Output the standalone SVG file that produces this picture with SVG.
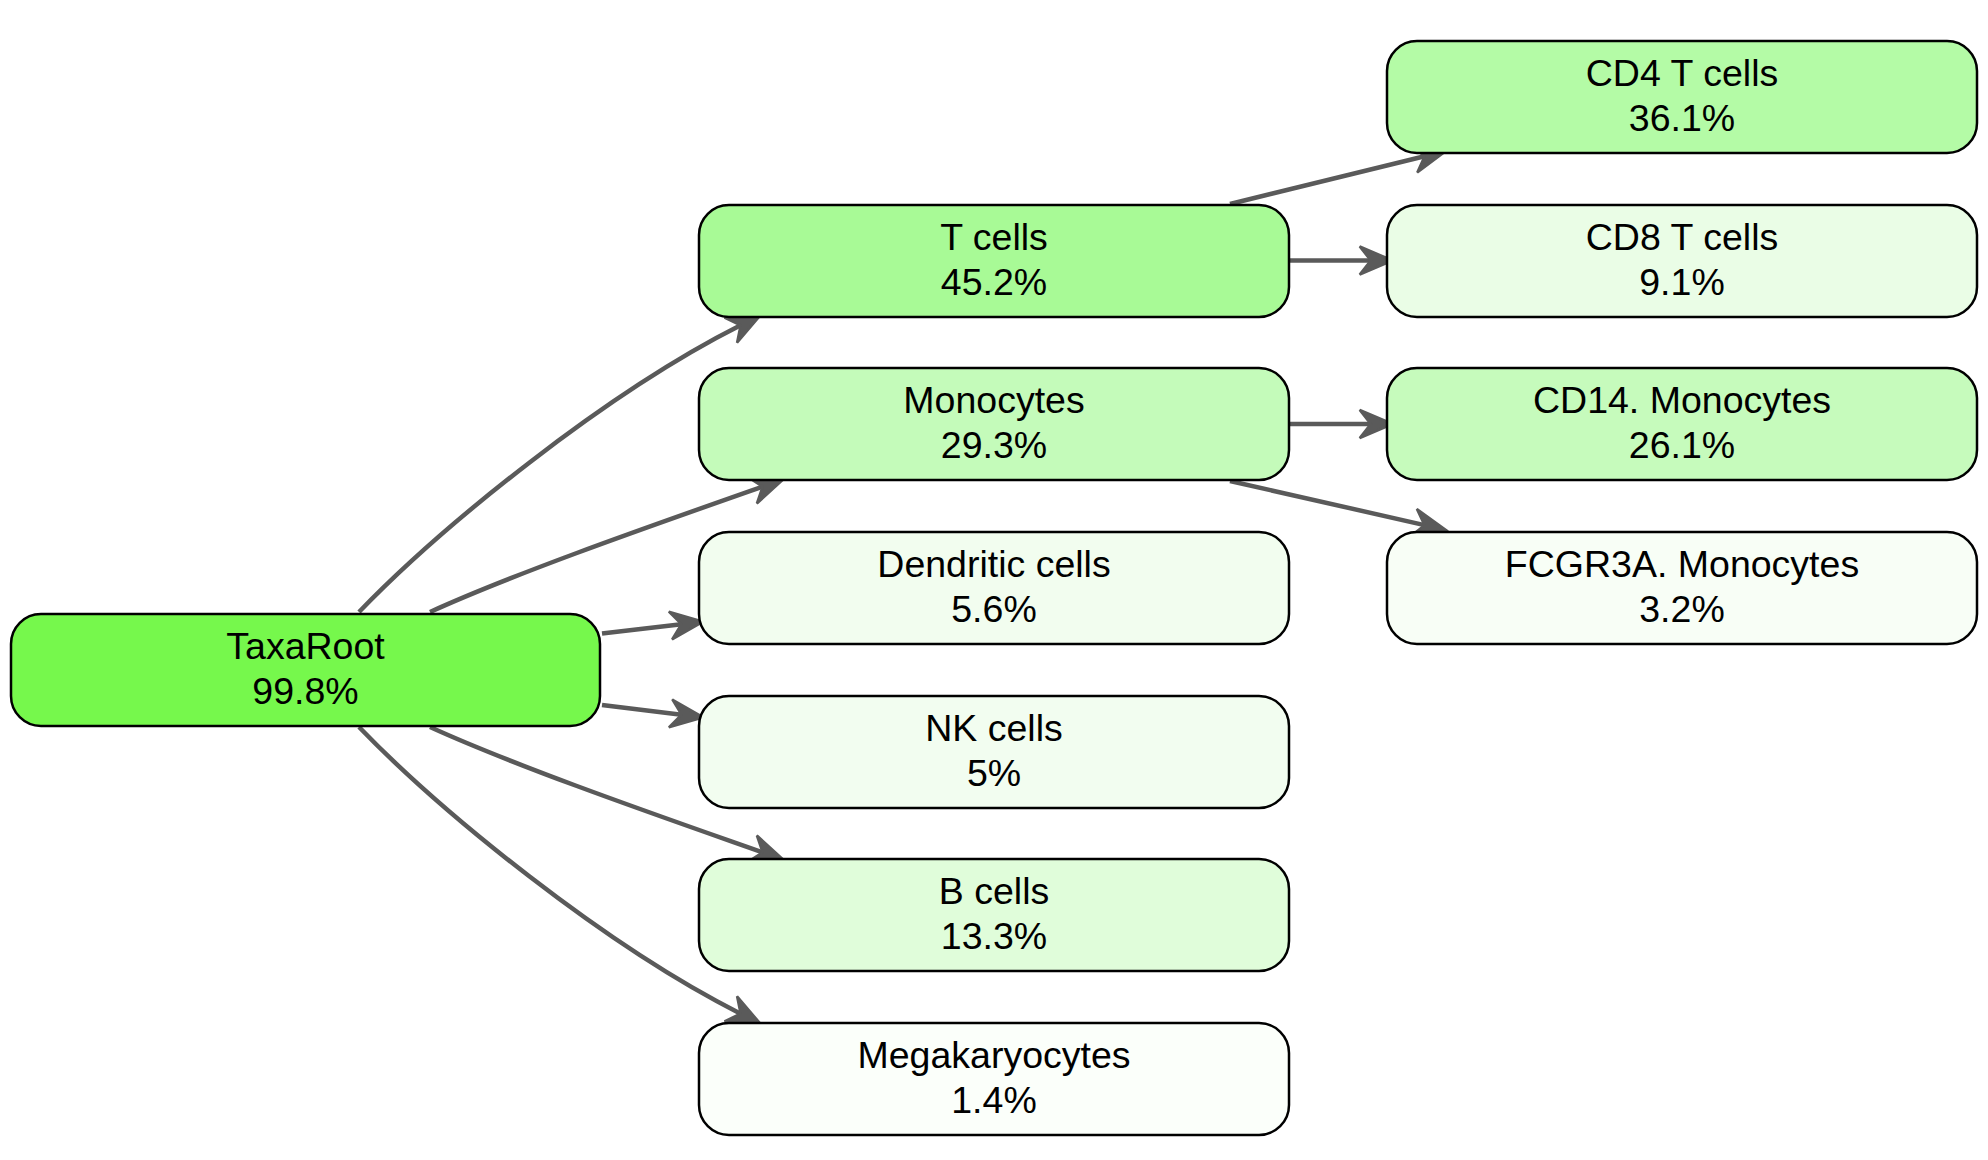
<svg xmlns="http://www.w3.org/2000/svg" width="1988" height="1160" viewBox="0 0 1988 1160">
<style>
.box{stroke:#000;stroke-width:2.5}
.t{font-family:"Liberation Sans",Arial,sans-serif;font-size:37.5px;fill:#000;text-anchor:middle}
.e{fill:none;stroke:#5a5a5a;stroke-width:4.5}
</style>
<defs>
<marker id="vee" markerUnits="userSpaceOnUse" markerWidth="60" markerHeight="40" viewBox="-14 -20 40 40" refX="0" refY="0" orient="auto" overflow="visible">
<path d="M22,0 L-11,-14 L0,0 L-11,14 Z" fill="#5a5a5a" stroke="#5a5a5a" stroke-width="2.5" stroke-linejoin="miter"/>
</marker>
</defs>
<rect width="1988" height="1160" fill="#fff"/>
<g id="connectors">
<path class="e" marker-end="url(#vee)" d="M359,612 C440,528 604,394 740.6,325.3"/>
<path class="e" marker-end="url(#vee)" d="M430,612 C520,571 668,520 762.6,486.6"/>
<path class="e" marker-end="url(#vee)" d="M602,633.5 L681.4,624.2"/>
<path class="e" marker-end="url(#vee)" d="M602,705 L681.5,714.7"/>
<path class="e" marker-end="url(#vee)" d="M430,727 C520,768 668,819 762.6,852.4"/>
<path class="e" marker-end="url(#vee)" d="M359,727 C440,811 604,945 740.6,1013.7"/>
<path class="e" marker-end="url(#vee)" d="M1230,204 L1424.6,156.2"/>
<path class="e" marker-end="url(#vee)" d="M1290,260.5 L1370.7,260.5"/>
<path class="e" marker-end="url(#vee)" d="M1290,424 L1370.7,424"/>
<path class="e" marker-end="url(#vee)" d="M1230,481 L1424.5,525.1"/>
</g>
<g id="TaxaRoot">
<rect class="box" x="11" y="614" width="589" height="112" rx="30" fill="#76f84c"/>
<text class="t" x="305.5" y="659">TaxaRoot</text>
<text class="t" x="305.5" y="704">99.8%</text>
</g>
<g id="Tcells">
<rect class="box" x="699" y="205" width="590" height="112" rx="30" fill="#a8fa96"/>
<text class="t" x="994" y="250">T cells</text>
<text class="t" x="994" y="295">45.2%</text>
</g>
<g id="Monocytes">
<rect class="box" x="699" y="368" width="590" height="112" rx="30" fill="#c4fbba"/>
<text class="t" x="994" y="413">Monocytes</text>
<text class="t" x="994" y="458">29.3%</text>
</g>
<g id="Dendritic">
<rect class="box" x="699" y="532" width="590" height="112" rx="30" fill="#f2fdef"/>
<text class="t" x="994" y="577">Dendritic cells</text>
<text class="t" x="994" y="622">5.6%</text>
</g>
<g id="NK">
<rect class="box" x="699" y="696" width="590" height="112" rx="30" fill="#f2fdf0"/>
<text class="t" x="994" y="741">NK cells</text>
<text class="t" x="994" y="786">5%</text>
</g>
<g id="Bcells">
<rect class="box" x="699" y="859" width="590" height="112" rx="30" fill="#e0fdda"/>
<text class="t" x="994" y="904">B cells</text>
<text class="t" x="994" y="949">13.3%</text>
</g>
<g id="Megakaryocytes">
<rect class="box" x="699" y="1023" width="590" height="112" rx="30" fill="#fbfffa"/>
<text class="t" x="994" y="1068">Megakaryocytes</text>
<text class="t" x="994" y="1113">1.4%</text>
</g>
<g id="CD4">
<rect class="box" x="1387" y="41" width="590" height="112" rx="30" fill="#b4fba6"/>
<text class="t" x="1682" y="86">CD4 T cells</text>
<text class="t" x="1682" y="131">36.1%</text>
</g>
<g id="CD8">
<rect class="box" x="1387" y="205" width="590" height="112" rx="30" fill="#eafde6"/>
<text class="t" x="1682" y="250">CD8 T cells</text>
<text class="t" x="1682" y="295">9.1%</text>
</g>
<g id="CD14">
<rect class="box" x="1387" y="368" width="590" height="112" rx="30" fill="#c6fbbc"/>
<text class="t" x="1682" y="413">CD14. Monocytes</text>
<text class="t" x="1682" y="458">26.1%</text>
</g>
<g id="FCGR3A">
<rect class="box" x="1387" y="532" width="590" height="112" rx="30" fill="#f8fef6"/>
<text class="t" x="1682" y="577">FCGR3A. Monocytes</text>
<text class="t" x="1682" y="622">3.2%</text>
</g>
</svg>
